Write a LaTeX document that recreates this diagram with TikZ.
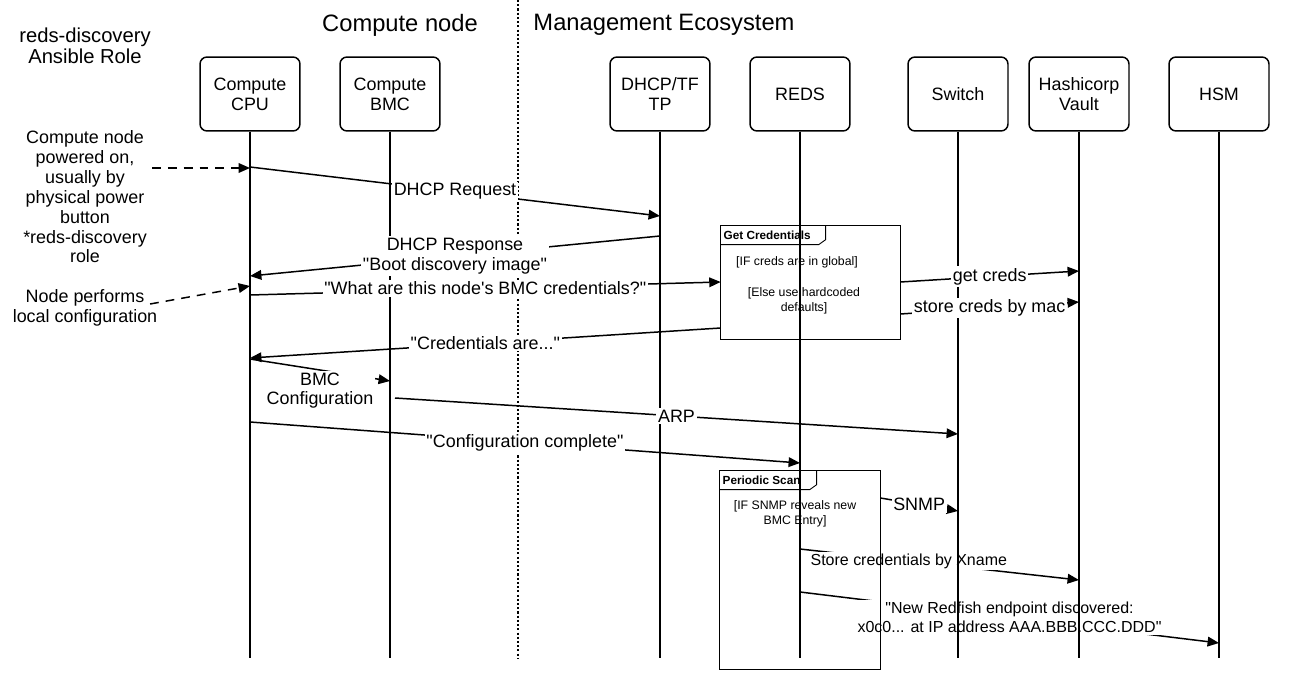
\documentclass[tikz,border=0pt]{standalone}
\usepackage{fontspec}
\setmainfont{Liberation Sans}
\usetikzlibrary{arrows.meta,calc}

\begin{document}
\begin{tikzpicture}[x=0.02cm,y=-0.02cm,
  txt/.style={align=center,inner sep=0pt,font=\fontsize{10.2}{11.3}\selectfont},
  head/.style={txt,draw,rounded corners=4pt,line width=0.85pt,minimum width=2cm,minimum height=1.48cm},
  life/.style={line width=1.1pt},
  msg/.style={line width=0.85pt,-{Triangle[length=6.5pt,width=5.5pt]}},
  note/.style={msg,dash pattern=on 5pt off 4pt},
  lbl/.style={txt,fill=white,inner sep=1pt},
  small/.style={font=\fontsize{9.1}{10.8}\selectfont},
  frame/.style={draw,line width=0.5pt,inner sep=0pt},
  tag/.style={anchor=west,inner sep=1.5pt,font=\bfseries\fontsize{6.7}{8}\selectfont},
  cond/.style={align=center,inner sep=0pt,font=\fontsize{7}{8.6}\selectfont}]
 \useasboundingbox (0,0) rectangle (1296,693);
    % titles and the split between both sides
      \node[font=\fontsize{13.5}{16}\selectfont] (cntitle) at (400,25) {Compute node};
      \node[font=\fontsize{13.5}{16}\selectfont] (metitle) at (664,25) {Management Ecosystem};
      \draw[line width=1pt,dash pattern=on 1.2pt off 1.2pt] (518,0) -- (518,658);
      \node[txt,font=\fontsize{11.5}{12}\selectfont] (roletxt) at (85,46) {reds-discovery\\Ansible Role};
    % heads and lifelines
      \newcommand{\lifelines}{cpu/250/{Compute\\CPU},bmc/390/{Compute\\BMC},dhcp/660/{DHCP/TF\\TP},reds/800/REDS,switch/958/Switch,vault/1079/{Hashicorp\\Vault},hsm/1219/HSM}
      \foreach \n/\x/\t in \lifelines {\node[head] (\n) at (\x,94) {\t};
        \draw[life] (\n) -- (\x,658);}
    % notes on the left
      \node[txt] (powertxt) at (85,197) {Compute node\\powered on,\\usually by\\physical power\\button\\*reds-discovery\\role};
      \node[txt] (localtxt) at (85,308) {Node performs\\local configuration};
      \draw[note] ([xshift=0.1cm]powertxt.east |- 0,168) -- (cpu |- 0,168);
      \draw[note] ([xshift=-0.15cm]localtxt.east |- 0,304) -- (cpu |- 0,286);
    % frames (drawn as nodes, outlines come last)
      \node[inner sep=0pt,minimum width=3.58cm,minimum height=2.26cm] (getcred) at (810.5,282.5) {};
      \node[inner sep=0pt,minimum width=3.2cm,minimum height=3.96cm] (scan) at (800,570) {};
    % messages
      \newcommand{\qq}{\textquotedbl}
      \draw[msg] (cpu |- 0,167) -- node[lbl]{DHCP Request} (dhcp |- 0,216);
      \draw[msg] (dhcp |- 0,236) -- node[lbl]{DHCP Response\\\qq Boot discovery image\qq} (cpu |- 0,276);
      \draw[msg] (cpu |- 0,295) -- node[lbl]{\qq What are this node\textquotesingle s BMC credentials?\qq} (getcred.west |- 0,282);
      \draw[msg] (getcred.east |- 0,282) -- node[lbl]{get creds} (vault |- 0,271);
      \draw[msg] (getcred.east |- 0,314) -- node[lbl]{store creds by mac} (vault |- 0,302);
      \draw[msg] (getcred.west |- 0,328) -- node[lbl]{\qq Credentials are...\qq} (cpu |- 0,358);
      \draw[msg] (cpu |- 0,359) -- node[lbl,anchor=north]{BMC\\Configuration} (bmc |- 0,381);
      \draw[msg] ([xshift=0.1cm]bmc |- 0,398) -- node[lbl]{ARP} (switch |- 0,434);
      \draw[msg] (cpu |- 0,422) -- node[lbl]{\qq Configuration complete\qq} (reds |- 0,463);
      \draw[msg] (scan.east |- 0,498) -- node[lbl]{SNMP} (switch |- 0,511);
      \draw[msg] (reds |- 0,549) -- node[lbl,small,pos=0.39]{Store credentials by Xname} (vault |- 0,580);
      \draw[msg] (reds |- 0,592) -- node[lbl,small]{\qq New Redfish endpoint discovered:\\x0c0... at IP address AAA.BBB.CCC.DDD\qq} (hsm |- 0,643);
    % these lifelines run over the last labels
      \foreach \n in {switch,vault} {\draw[life] (\n |- 0,540) -- (\n |- 0,658);}
    % frame contents
      \node[cond] (ifglobal) at (797,262) {[IF creds are in global]};
      \node[cond] (elsedef) at (804,301) {[Else use hardcoded\\defaults]};
      \node[cond] (ifsnmp) at (795,514) {[IF SNMP reveals new\\BMC Entry]};
      \foreach \f/\w/\t in {getcred/105/Get Credentials,scan/97/Periodic Scan}{
        \draw[frame] (\f.north west) rectangle (\f.south east);
        \draw[line width=0.5pt] (\f.north west) ++(0,19) -- ++(\w-7,0) -- ++(7,-5) -- ++(0,-14);
        \node[tag] at ($(\f.north west)+(0,9.5)$) {\t};}
  \end{tikzpicture}
\end{document}
